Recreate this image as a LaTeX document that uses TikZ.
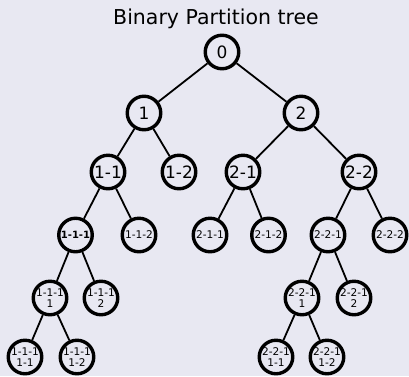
\documentclass[tikz,border=0pt]{standalone}
\usepackage{fontspec}
\setmainfont{DejaVu Sans}
\definecolor{bgcol}{RGB}{232,232,242}
\begin{document}
\begin{tikzpicture}[x=1pt,y=-1pt,
  tn/.style={circle,draw=black,line width=3.4pt,minimum size=33.5pt,inner sep=0pt,align=center},
  big/.style={tn,font=\fontsize{17}{19}\selectfont},
  small/.style={tn,font=\fontsize{10.6}{10.5}\selectfont},
  edge/.style={draw=black,line width=1.8pt}]
\fill[bgcol] (0,0) rectangle (409,376);
\useasboundingbox (0,0) rectangle (409,376);
\node[font=\fontsize{20.5}{24}\selectfont,anchor=base] (title) at (216,24.5) {Binary Partition tree};
\node[big] (n0) at (222,52) {0};
\node[big] (n1) at (144,113) {1};
\node[big] (n2) at (301,113) {2};
\node[big] (n11) at (108,172) {1-1};
\node[big] (n12) at (179,172) {1-2};
\node[big] (n21) at (243,172) {2-1};
\node[big] (n22) at (359,172) {2-2};
\node[small,font=\fontsize{10}{10.5}\selectfont\bfseries] (n111) at (75.5,235) {1-1-1};
\node[small] (n112) at (139,235) {1-1-2};
\node[small] (n211) at (210,235) {2-1-1};
\node[small] (n212) at (268.5,235) {2-1-2};
\node[small] (n221) at (328,235) {2-2-1};
\node[small] (n222) at (390,235) {2-2-2};
\node[small] (n1111) at (50,298) {1-1-1\\1};
\node[small] (n1112) at (101,298) {1-1-1\\2};
\node[small] (n2211) at (302,298) {2-2-1\\1};
\node[small] (n2212) at (354,298) {2-2-1\\2};
\node[small] (n11111) at (25,357) {1-1-1\\1-1};
\node[small] (n11112) at (77,357) {1-1-1\\1-2};
\node[small] (n22111) at (276,357) {2-2-1\\1-1};
\node[small] (n22112) at (327,357) {2-2-1\\1-2};
\path[edge] (n0) -- (n1);
\path[edge] (n0) -- (n2);
\path[edge] (n1) -- (n11);
\path[edge] (n1) -- (n12);
\path[edge] (n2) -- (n21);
\path[edge] (n2) -- (n22);
\path[edge] (n11) -- (n111);
\path[edge] (n11) -- (n112);
\path[edge] (n21) -- (n211);
\path[edge] (n21) -- (n212);
\path[edge] (n22) -- (n221);
\path[edge] (n22) -- (n222);
\path[edge] (n111) -- (n1111);
\path[edge] (n111) -- (n1112);
\path[edge] (n221) -- (n2211);
\path[edge] (n221) -- (n2212);
\path[edge] (n1111) -- (n11111);
\path[edge] (n1111) -- (n11112);
\path[edge] (n2211) -- (n22111);
\path[edge] (n2211) -- (n22112);
\end{tikzpicture}
\end{document}
